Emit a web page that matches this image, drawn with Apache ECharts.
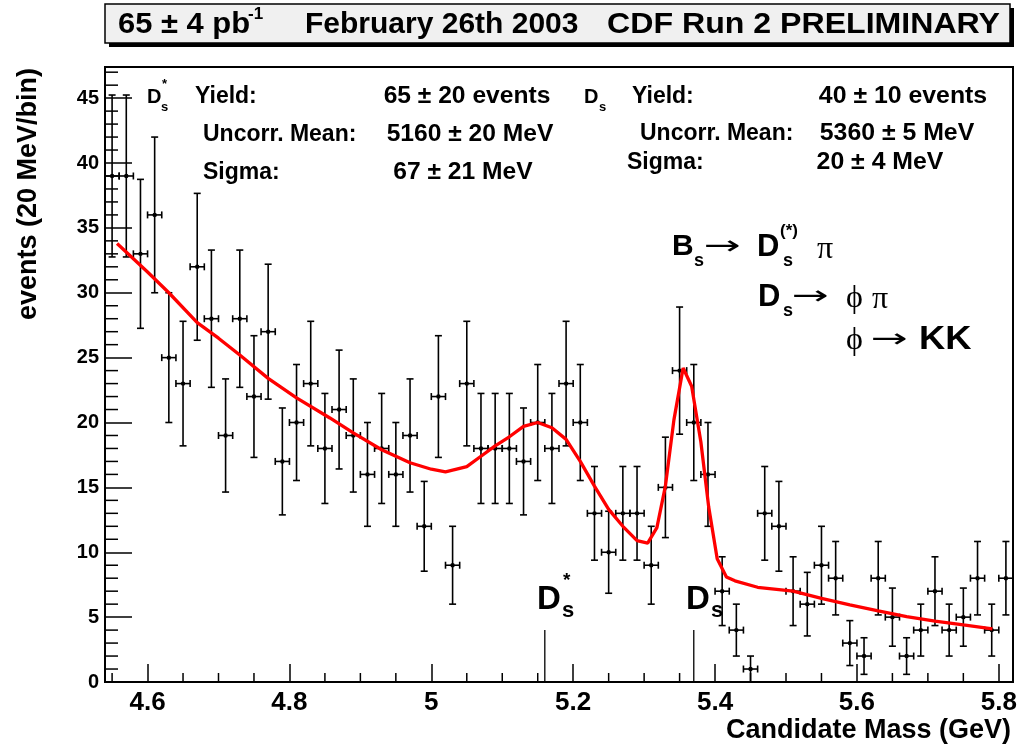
<!DOCTYPE html>
<html><head><meta charset="utf-8">
<script src="https://cdn.jsdelivr.net/npm/echarts@6/dist/echarts.min.js"></script>
<style>html,body{margin:0;padding:0;background:#fff;} #c{width:1032px;height:748px;}</style>
</head><body><div id="c"></div>
<script>
// ---- data ----
const binCenters = [4.55,4.57,4.59,4.61,4.63,4.65,4.67,4.69,4.71,4.73,4.75,4.77,4.79,4.81,4.83,4.85,
  4.87,4.89,4.91,4.93,4.95,4.97,4.99,5.01,5.03,5.05,5.07,5.09,5.11,5.13,5.15,5.17,
  5.19,5.21,5.23,5.25,5.27,5.29,5.31,5.33,5.35,5.37,5.39,5.41,5.43,5.45,5.47,5.49,
  5.51,5.53,5.55,5.57,5.59,5.61,5.63,5.65,5.67,5.69,5.71,5.73,5.75,5.77,5.79,5.81];
const counts = [39,39,33,36,25,23,32,28,19,28,22,27,17,20,23,18,
  21,19,16,18,16,19,12,22,9,23,18,18,18,17,20,18,
  23,20,13,10,13,13,9,15,24,20,16,7,4,1,13,12,
  7,6,9,8,3,2,8,5,2,4,7,4,5,8,4,8];
const errors = [6.24,6.24,5.74,6.00,5.00,4.80,5.66,5.29,4.36,5.29,4.69,5.20,4.12,4.47,4.80,4.24,
  4.58,4.36,4.00,4.24,4.00,4.36,3.46,4.69,3.00,4.80,4.24,4.24,4.24,4.12,4.47,4.24,
  4.80,4.47,3.61,3.16,3.61,3.61,3.00,3.87,4.90,4.47,4.00,2.65,2.00,1.00,3.61,3.46,
  2.65,2.45,3.00,2.83,1.73,1.41,2.83,2.24,1.41,2.00,2.65,2.00,2.24,2.83,2.00,2.83];
const binHalfWidth = 0.01;
const fitX = [4.557,4.60,4.63,4.67,4.70,4.73,4.77,4.81,4.857,4.89,4.93,4.97,5.00,5.02,5.05,5.07,
  5.09,5.11,5.13,5.15,5.17,5.19,5.21,5.23,5.25,5.27,5.29,5.305,5.318,5.330,5.342,5.355,
  5.367,5.380,5.391,5.403,5.416,5.428,5.46,5.51,5.55,5.59,5.63,5.67,5.71,5.75,5.791];
const fitY = [33.8,31.6,30.0,27.7,26.5,25.2,23.4,21.9,20.35,19.2,17.9,16.9,16.4,16.2,16.6,17.4,
  18.2,18.9,19.7,20.0,19.6,18.7,17.0,15.1,13.3,12.0,10.9,10.7,11.9,15.1,20.2,24.2,
  22.8,18.5,13.5,9.5,8.1,7.8,7.3,7.0,6.45,5.94,5.48,5.04,4.7,4.4,4.1];
const markerX = [5.16, 5.37];
const markerHeight = [4, 4];
const xMajorTicks = [4.6,4.8,5,5.2,5.4,5.6,5.8];
const xMinorTicks = [4.55,4.65,4.7,4.75,4.85,4.9,4.95,5.05,5.1,5.15,5.25,5.3,5.35,5.45,5.5,5.55,5.65,5.7,5.75];
const yMajorTicks = [0,5,10,15,20,25,30,35,40,45];
const yMinorTicks = [1,2,3,4,6,7,8,9,11,12,13,14,16,17,18,19,21,22,23,24,26,27,28,29,31,32,33,34,36,37,38,39,41,42,43,44,46,47];
const xRange = [4.54, 5.82];
const yRange = [0, 47.4];

// ---- chart ----
const FONT = '"Liberation Sans", Arial, Helvetica, sans-serif';
const SERIF = '"Liberation Serif", "DejaVu Serif", serif';
const chart = echarts.init(document.getElementById('c'), null, {renderer: 'canvas'});

function T(x, y, text, size, opts) {
  opts = opts || {};
  return {
    type: 'text', x: x, y: y, z: 100, rotation: opts.rotation || 0,
    scaleX: opts.scaleX || 1,
    style: {
      text: text,
      font: (opts.normal ? '' : 'bold ') + size + 'px ' + (opts.serif ? SERIF : (opts.dv ? '"DejaVu Sans", sans-serif' : FONT)),
      fill: '#000',
      textAlign: opts.align || 'left', align: opts.align || 'left',
      textVerticalAlign: 'middle', verticalAlign: 'middle'
    }
  };
}

const errData = binCenters.map((x, i) => [x, counts[i], errors[i]]);
const fitData = fitX.map((x, i) => [x, fitY[i]]);
const markData = markerX.map((x, i) => [x, markerHeight[i]]);
const xMinorData = xMinorTicks.map(v => [v, yRange[0]]);
const yMinorData = yMinorTicks.map(v => [xRange[0], v]);

const option = {
  animation: false,
  backgroundColor: '#fff',
  grid: { left: 105, right: 19, top: 67, bottom: 66, show: true, borderColor: '#000', borderWidth: 2, backgroundColor: 'transparent' },
  xAxis: { type: 'value', min: xRange[0], max: xRange[1], position: 'bottom',
      axisLine: { show: true, onZero: false, lineStyle: { color: '#000', width: 2 } },
      axisTick: { show: true, inside: true, length: 18, customValues: xMajorTicks, lineStyle: { color: '#000', width: 1.5 } },
      axisLabel: { show: true, customValues: xMajorTicks, fontSize: 26, fontWeight: 'bold', fontFamily: FONT, color: '#000', margin: 8 },
      splitLine: { show: false } },
  yAxis: { type: 'value', min: yRange[0], max: yRange[1], position: 'left',
      axisLine: { show: true, onZero: false, lineStyle: { color: '#000', width: 2 } },
      axisTick: { show: true, inside: true, length: 27, customValues: yMajorTicks, lineStyle: { color: '#000', width: 1.5 } },
      axisLabel: { show: true, customValues: yMajorTicks, fontSize: 20, fontWeight: 'bold', fontFamily: FONT, color: '#000', margin: 6 },
      splitLine: { show: false } },
  series: [
    // minor ticks (inside the frame)
    { type: 'custom', data: xMinorData, z: 2, silent: true, clip: false,
      renderItem: function (params, api) {
        const c = api.coord([api.value(0), api.value(1)]);
        return { type: 'line', shape: { x1: c[0], y1: c[1], x2: c[0], y2: c[1] - 9 }, style: { stroke: '#000', lineWidth: 1.5 } };
      } },
    { type: 'custom', data: yMinorData, z: 2, silent: true, clip: false,
      renderItem: function (params, api) {
        const c = api.coord([api.value(0), api.value(1)]);
        return { type: 'line', shape: { x1: c[0], y1: c[1], x2: c[0] + 13, y2: c[1] }, style: { stroke: '#000', lineWidth: 1.5 } };
      } },
    // data points with error bars
    { type: 'custom', data: errData, z: 3,
      renderItem: function (params, api) {
        const x = api.value(0), y = api.value(1), e = api.value(2);
        const c = api.coord([x, y]);
        const l = api.coord([x - binHalfWidth, y]);
        const r = api.coord([x + binHalfWidth, y]);
        const t = api.coord([x, y + e]);
        const b = api.coord([x, Math.max(0, y - e)]);
        const st = { stroke: '#000', lineWidth: 1.6 };
        const cap = 3.5;
        return { type: 'group', children: [
          { type: 'line', shape: { x1: c[0], y1: t[1], x2: c[0], y2: b[1] }, style: st },
          { type: 'line', shape: { x1: l[0], y1: c[1], x2: r[0], y2: c[1] }, style: st },
          { type: 'line', shape: { x1: c[0] - cap, y1: t[1], x2: c[0] + cap, y2: t[1] }, style: st },
          { type: 'line', shape: { x1: c[0] - cap, y1: b[1], x2: c[0] + cap, y2: b[1] }, style: st },
          { type: 'line', shape: { x1: l[0], y1: c[1] - cap, x2: l[0], y2: c[1] + cap }, style: st },
          { type: 'line', shape: { x1: r[0], y1: c[1] - cap, x2: r[0], y2: c[1] + cap }, style: st },
          { type: 'circle', shape: { cx: c[0], cy: c[1], r: 2.2 }, style: { fill: '#000' } }
        ]};
      } },
    // mass marker lines
    { type: 'custom', data: markData, z: 3,
      renderItem: function (params, api) {
        const p0 = api.coord([api.value(0), 0]);
        const p1 = api.coord([api.value(0), api.value(1)]);
        return { type: 'line', shape: { x1: p0[0], y1: p0[1], x2: p1[0], y2: p1[1] }, style: { stroke: '#000', lineWidth: 1.3 } };
      } },
    // fit function
    { type: 'line', data: fitData, showSymbol: false, symbol: 'none', smooth: false, z: 5,
      lineStyle: { color: '#ff0000', width: 3.3 } }
  ],
  graphic: { elements: [
    // title box with shadow
    { type: 'rect', z: 90, shape: { x: 109, y: 8, width: 905, height: 39 }, style: { fill: '#000' } },
    { type: 'rect', z: 91, shape: { x: 105, y: 4, width: 905, height: 39 }, style: { fill: '#f0f0f0', stroke: '#000', lineWidth: 1.5 } },
    T(118, 25, '65 ± 4 pb', 30, { scaleX: 1.03 }), T(248, 14, '-1', 17),
    T(305, 25, 'February 26th 2003', 30),
    T(1000, 25, 'CDF Run 2 PRELIMINARY', 30, { align: 'right', scaleX: 1.07 }),
    // axis titles
    T(29, 68, 'events (20 MeV/bin)', 27, { align: 'right', rotation: Math.PI / 2 }),
    T(1011, 731, 'Candidate Mass (GeV)', 27, { align: 'right' }),
    // left stats block
    T(147, 97, 'D', 20), T(162, 84, '*', 13), T(161, 107, 's', 13),
    T(195, 97, 'Yield:', 23), T(467, 97, '65 ± 20 events', 23, { align: 'center', scaleX: 1.07 }),
    T(203, 135, 'Uncorr. Mean:', 23), T(470, 135, '5160 ± 20 MeV', 23, { align: 'center', scaleX: 1.07 }),
    T(203, 173, 'Sigma:', 23), T(463, 173, '67 ± 21 MeV', 23, { align: 'center', scaleX: 1.07 }),
    // right stats block
    T(584, 97, 'D', 20), T(599, 107, 's', 13),
    T(632, 97, 'Yield:', 23), T(903, 97, '40 ± 10 events', 23, { align: 'center', scaleX: 1.08 }),
    T(640, 134, 'Uncorr. Mean:', 23), T(897, 134, '5360 ± 5 MeV', 23, { align: 'center', scaleX: 1.08 }),
    T(627, 163, 'Sigma:', 23), T(880, 163, '20 ± 4 MeV', 23, { align: 'center', scaleX: 1.08 }),
    // decay chain
    T(672, 247, 'B', 30), T(694, 261, 's', 18), T(704, 247, '→', 26, { normal: true, dv: true, scaleX: 1.7 }),
    T(757, 247, 'D', 31), T(780, 231, '(*)', 17), T(783, 261, 's', 18), T(817, 250, 'π', 32, { serif: true, normal: true }),
    T(758, 297, 'D', 31), T(783, 311, 's', 18), T(792, 297, '→', 26, { normal: true, dv: true, scaleX: 1.7 }),
    T(846, 299, 'ϕ', 32, { serif: true, normal: true }), T(872, 300, 'π', 32, { serif: true, normal: true }),
    T(846, 341, 'ϕ', 32, { serif: true, normal: true }), T(871, 340, '→', 26, { normal: true, dv: true, scaleX: 1.7 }),
    T(919, 340, 'KK', 33, { scaleX: 1.1 }),
    // mass markers
    T(537, 600, 'D', 33), T(563, 581, '*', 19), T(562, 611, 's', 22),
    T(686, 600, 'D', 33), T(711, 611, 's', 22)
  ] }
};
chart.setOption(option);
</script>
</body></html>
